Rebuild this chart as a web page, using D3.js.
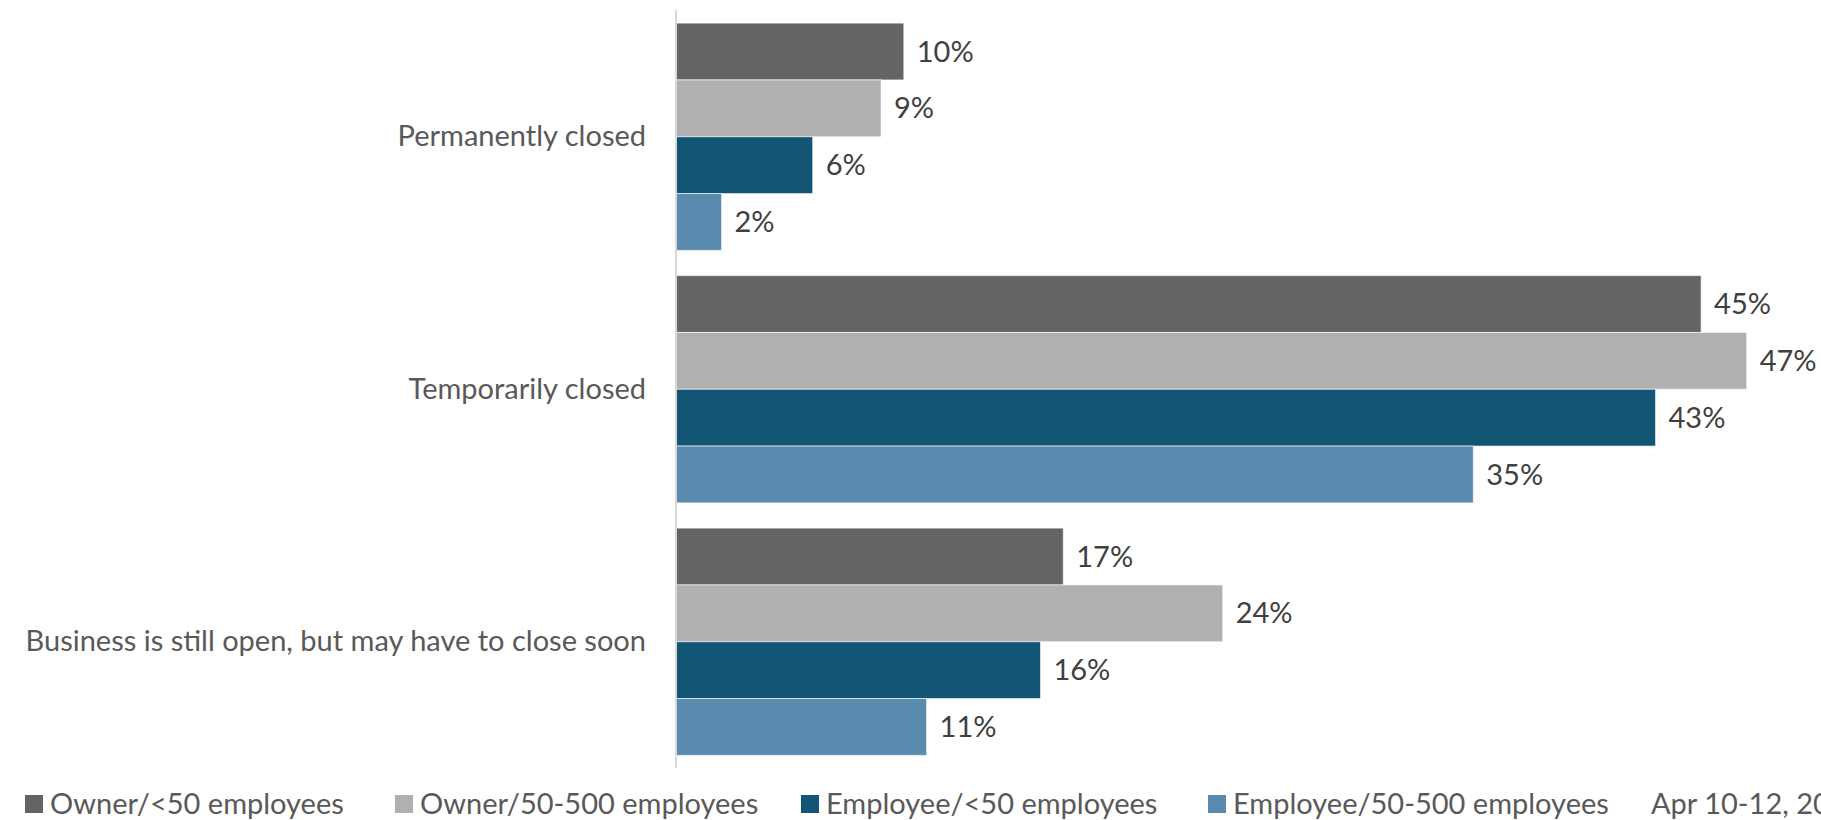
<!DOCTYPE html>
<html>
<head>
<meta charset="utf-8">
<script src="https://cdn.jsdelivr.net/npm/d3@7"></script>
<style>
  html, body { margin: 0; padding: 0; background: #fff; overflow: hidden; }
  svg { display: block; font-family: Lato, "Open Sans", sans-serif; }
</style>
</head>
<body>
<svg id="chart" width="1821" height="820"></svg>
<script>
// Survey responses: status of business, by respondent group
const categories = ["Permanently closed", "Temporarily closed", "Business is still open, but may have to close soon"];
const seriesNames = ["Owner/<50 employees", "Owner/50-500 employees", "Employee/<50 employees", "Employee/50-500 employees"];
const ownerSmall = [0.10, 0.45, 0.17];
const ownerMid = [0.09, 0.47, 0.24];
const employeeSmall = [0.06, 0.43, 0.16];
const employeeMid = [0.02, 0.35, 0.11];
const seriesColors = ["#646464", "#b0b0b0", "#125574", "#5a8aae"];
const dateNote = "Apr 10-12, 2020";

const seriesValues = [ownerSmall, ownerMid, employeeSmall, employeeMid];

const svg = d3.select("#chart");
const width = 1821;
const fontSize = 29;

const x = d3.scaleLinear().domain([0, 0.5]).range([676, 1815]);
const y = d3.scaleBand().domain(categories).range([10.5, 768]).paddingInner(0.1).paddingOuter(0.05);
const ySub = d3.scaleBand().domain(d3.range(seriesNames.length)).range([0, y.bandwidth()]);

const rows = [];
categories.forEach((c, ci) => {
  seriesValues.forEach((vals, si) => rows.push({ cat: c, s: si, v: vals[ci] }));
});

// bars
svg.append("g").selectAll("rect").data(rows).join("rect")
  .attr("x", x(0))
  .attr("y", d => y(d.cat) + ySub(d.s))
  .attr("width", d => x(d.v) - x(0))
  .attr("height", ySub.bandwidth())
  .attr("fill", d => seriesColors[d.s])
  .attr("stroke", "#ffffff")
  .attr("stroke-opacity", 0.6)
  .attr("stroke-width", 1);

// value labels
const pct = d3.format(".0%");
svg.append("g").selectAll("text").data(rows).join("text")
  .attr("x", d => x(d.v) + 13)
  .attr("y", d => y(d.cat) + ySub(d.s) + ySub.bandwidth() / 2)
  .attr("dy", "0.35em")
  .attr("font-size", fontSize)
  .attr("fill", "#404040")
  .text(d => pct(d.v));

// category axis
const yAxis = svg.append("g")
  .attr("transform", `translate(${x(0)},0)`)
  .call(d3.axisLeft(y).tickSize(0).tickPadding(30));
yAxis.select(".domain")
  .attr("stroke", "#d9d9d9")
  .attr("stroke-width", 2)
  .attr("d", `M0,10V768`);
yAxis.selectAll("text")
  .attr("font-size", fontSize)
  .attr("font-family", "Lato, 'Open Sans', sans-serif")
  .attr("fill", "#595959");

// legend
const legendX = [25, 395, 801, 1208];
const legend = svg.append("g").attr("transform", "translate(0,804)");
const items = legend.selectAll("g").data(seriesNames).join("g")
  .attr("transform", (d, i) => `translate(${legendX[i]},0)`);
items.append("rect")
  .attr("x", 0).attr("y", -9).attr("width", 18).attr("height", 18)
  .attr("fill", (d, i) => seriesColors[i]);
items.append("text")
  .attr("x", 25).attr("dy", "0.35em")
  .attr("font-size", fontSize)
  .attr("fill", "#595959")
  .text(d => d);
legend.append("text")
  .attr("x", 1651).attr("dy", "0.35em")
  .attr("font-size", fontSize)
  .attr("fill", "#595959")
  .text(dateNote);
</script>
</body>
</html>
